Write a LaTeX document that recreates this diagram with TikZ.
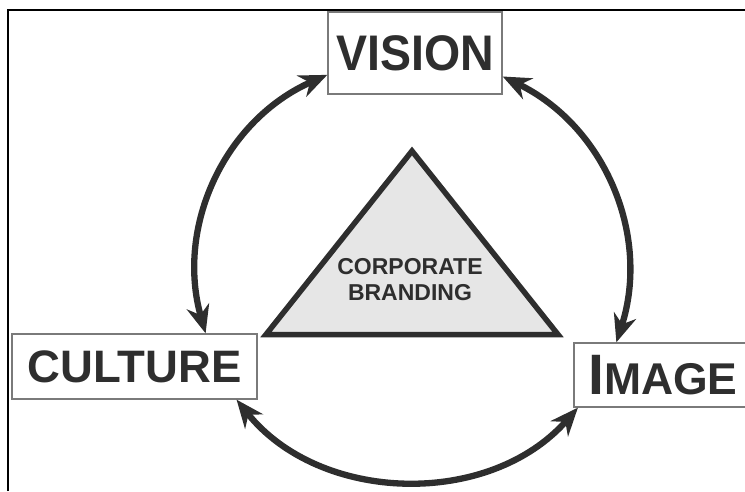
\documentclass[tikz,border=0pt]{standalone}
\usepackage{fontspec}
\setmainfont{Liberation Sans}
\newfontfamily\visionfont{Liberation Sans}[FakeStretch=0.93]
\usetikzlibrary{arrows.meta}
\definecolor{inkgray}{HTML}{2E2E2E}
\definecolor{boxgray}{HTML}{7A7A7A}
\definecolor{trifill}{HTML}{E6E6E6}

\begin{document}
\begin{tikzpicture}[x=1pt,y=1pt,
    idea/.style = {draw=boxgray, line width=1.3pt, fill=white, inner sep=0pt, text=inkgray},
    roundarrow/.style = {draw=inkgray, line width=6.3pt,
        {Stealth[length=28pt,width=23pt,inset=9pt]}-{Stealth[length=28pt,width=23pt,inset=9pt]}}]
    \useasboundingbox (0,0) rectangle (745,491);
    % frame
    \draw[line width=1.6pt] (8,0) -- (8,481) -- (745,481);
    % corporate branding triangle
    \draw[fill=trifill, draw=inkgray, line width=5.5pt] (266,156.5) -- (412,340) -- (558,156.5) -- cycle;
    \node[text=inkgray, font=\bfseries\fontsize{23}{26}\selectfont, align=center] (brand) at (410,211) {CORPORATE\\BRANDING};
    % the three boxes
    \node[idea, minimum width=174pt, minimum height=82pt, font=\visionfont\bfseries\fontsize{50}{50}\selectfont] (vision) at (415,438) {VISION};
    \node[idea, minimum width=245pt, minimum height=65pt, font=\bfseries\fontsize{45.5}{45.5}\selectfont] (culture) at (134.5,124.5) {CULTURE};
    \node[idea, minimum width=178pt, minimum height=64pt, font=\bfseries] (image) at (663,116) {{\fontsize{57}{57}\selectfont I}{\fontsize{44.5}{44.5}\selectfont MAGE}};
    % arrows round the triangle
    \draw[roundarrow] (vision.194) to[bend right=41] (culture.25);
    \draw[roundarrow] (vision.345) to[bend left=41] (image.145);
    \draw[roundarrow] (culture.342) to[bend right=50] (image.201);
\end{tikzpicture}
\end{document}
